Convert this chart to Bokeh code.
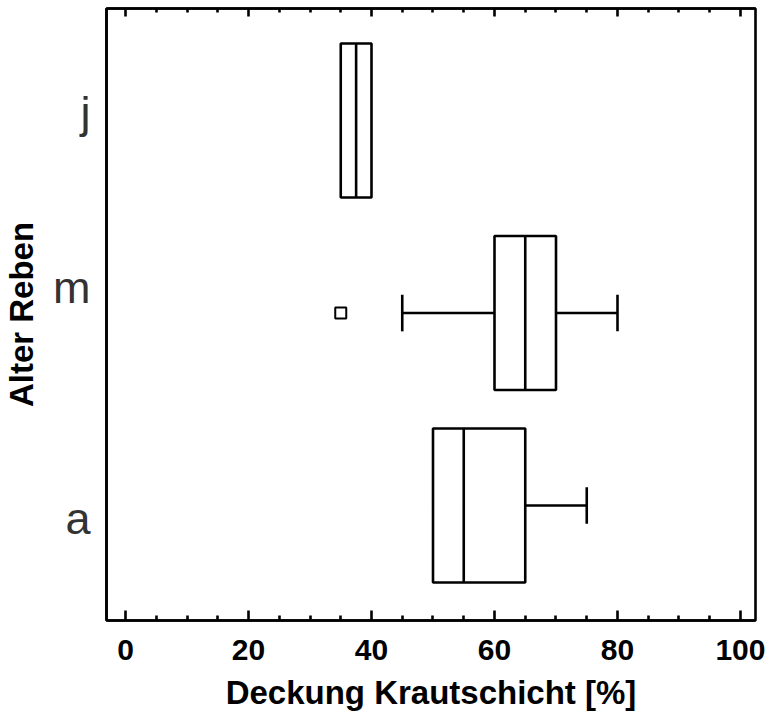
from bokeh.plotting import figure
from bokeh.models import Range1d, FixedTicker, LinearAxis, ColumnDataSource
from bokeh.embed import file_html
from bokeh.resources import INLINE

# ---- data ----
categories = ["a", "m", "j"]          # bottom to top
lower_whisker = [50, 45, 35]
q1 = [50, 60, 35]
median = [55, 65, 37.5]
q3 = [65, 70, 40]
upper_whisker = [75, 80, 40]
outlier_cat = ["m"]
outlier_val = [35]
x_ticks = [0, 20, 40, 60, 80, 100]
x_minor = [5, 10, 15, 25, 30, 35, 45, 50, 55, 65, 70, 75, 85, 90, 95]

pos = {c: i + 1 for i, c in enumerate(categories)}
label_shift = {"a": -0.067, "m": 0.133, "j": 0.042}   # label placement (style)

box_h = 0.8
cap_h = 0.19
LW = 2.6
FONT = "Liberation Sans"

p = figure(frame_width=649, frame_height=612, output_backend="svg",
           toolbar_location=None, x_range=Range1d(-3.09, 102.44),
           y_range=Range1d(0.403, 3.582),
           min_border_left=102, min_border_right=10,
           min_border_top=8, min_border_bottom=92)
p.xgrid.visible = False
p.ygrid.visible = False
p.outline_line_color = "black"
p.outline_line_width = LW
p.background_fill_color = "white"
p.border_fill_color = "white"

y = [pos[c] for c in categories]
src = ColumnDataSource(dict(y=y, lw=lower_whisker, q1=q1, med=median, q3=q3, uw=upper_whisker,
                            top=[v + box_h / 2 for v in y], bot=[v - box_h / 2 for v in y]))

# whiskers
p.segment(x0="lw", y0="y", x1="q1", y1="y", source=src, line_color="black", line_width=LW)
p.segment(x0="q3", y0="y", x1="uw", y1="y", source=src, line_color="black", line_width=LW)
# caps
cap_x, cap_y = [], []
for i, c in enumerate(categories):
    if lower_whisker[i] < q1[i]:
        cap_x.append(lower_whisker[i]); cap_y.append(pos[c])
    if upper_whisker[i] > q3[i]:
        cap_x.append(upper_whisker[i]); cap_y.append(pos[c])
p.segment(x0=cap_x, y0=[v - cap_h / 2 for v in cap_y], x1=cap_x, y1=[v + cap_h / 2 for v in cap_y],
          line_color="black", line_width=LW)
# boxes
p.quad(left="q1", right="q3", bottom="bot", top="top", source=src,
       fill_color="white", line_color="black", line_width=LW)
# medians
p.segment(x0="med", y0="bot", x1="med", y1="top", source=src, line_color="black", line_width=LW)
# outliers
p.scatter(x=outlier_val, y=[pos[c] for c in outlier_cat], marker="square", size=11,
          fill_color="white", line_color="black", line_width=2)

ticker = FixedTicker(ticks=x_ticks, minor_ticks=x_minor)

# bottom axis
xa = p.xaxis[0]
xa.ticker = ticker
xa.axis_label = "Deckung Krautschicht [%]"
xa.axis_label_text_font = FONT
xa.axis_label_text_font_style = "bold"
xa.axis_label_text_font_size = "33px"
xa.axis_label_text_color = "black"
xa.axis_label_standoff = 11
xa.major_label_text_font = FONT
xa.major_label_text_font_style = "bold"
xa.major_label_text_font_size = "30px"
xa.major_label_text_color = "black"
xa.major_label_standoff = 19
xa.axis_line_width = LW
xa.axis_line_color = "black"
xa.major_tick_in = 10
xa.major_tick_out = 0
xa.minor_tick_in = 5
xa.minor_tick_out = 0
xa.major_tick_line_width = LW
xa.minor_tick_line_width = LW
xa.major_tick_line_color = "black"
xa.minor_tick_line_color = "black"

# top axis (ticks only, blank labels)
ta = LinearAxis(ticker=ticker, major_label_overrides={t: "" for t in x_ticks},
                major_label_standoff=0,
                major_tick_in=8, major_tick_out=0, minor_tick_in=4, minor_tick_out=0,
                major_tick_line_width=LW, minor_tick_line_width=LW,
                axis_line_width=LW, axis_line_color="black")
p.add_layout(ta, "above")

# left axis
ya = p.yaxis[0]
ya.ticker = FixedTicker(ticks=[pos[c] + label_shift[c] for c in categories], minor_ticks=[])
ya.major_label_overrides = {pos[c] + label_shift[c]: c for c in categories}
ya.axis_label = "Alter Reben"
ya.axis_label_text_font = FONT
ya.axis_label_text_font_style = "bold"
ya.axis_label_text_font_size = "33px"
ya.axis_label_text_color = "black"
ya.axis_label_standoff = 10
ya.major_label_text_font = FONT
ya.major_label_text_font_style = "normal"
ya.major_label_text_font_size = "45px"
ya.major_label_text_color = "#333333"
ya.major_label_standoff = 16
ya.major_tick_in = 0
ya.major_tick_out = 0
ya.minor_tick_in = 0
ya.minor_tick_out = 0
ya.axis_line_width = LW
ya.axis_line_color = "black"

open("out.html", "w").write(file_html(p, INLINE))
